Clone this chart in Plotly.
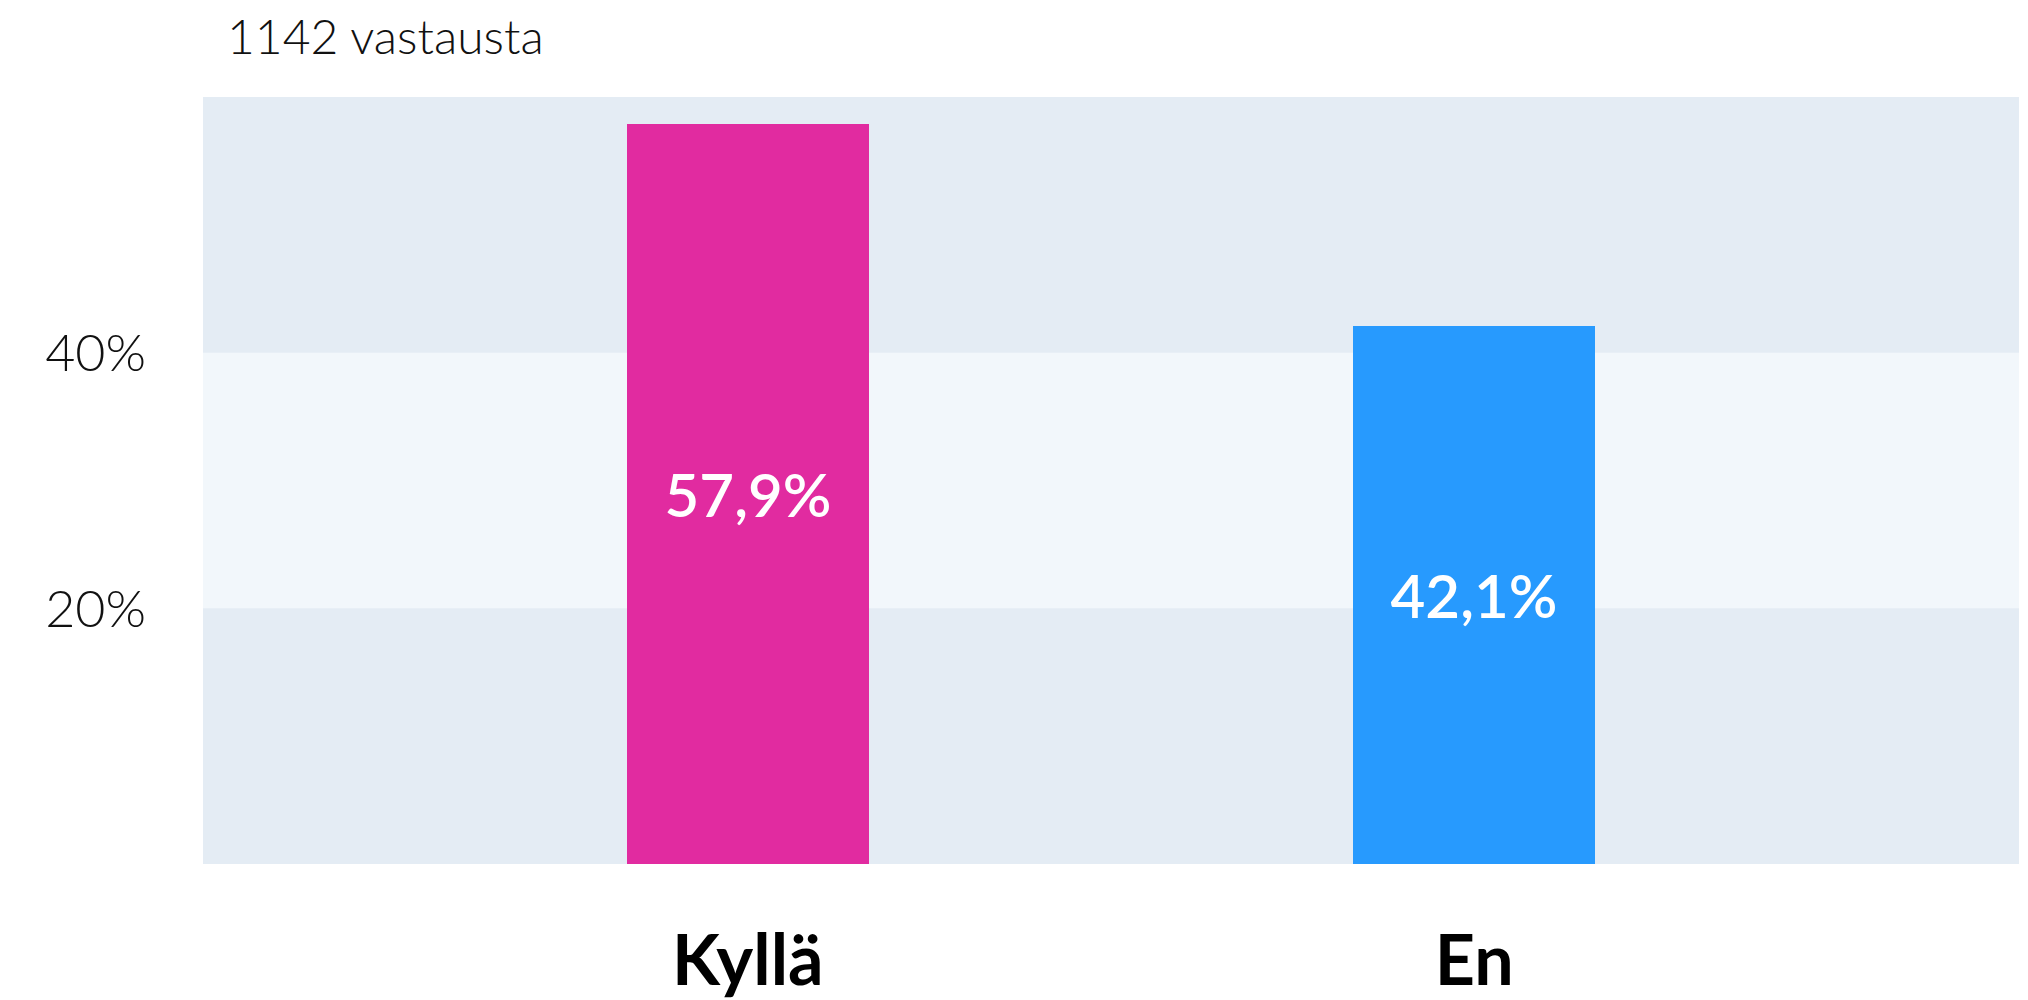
import plotly.graph_objects as go

categories = ["Kyllä", "En"]
values = [57.9, 42.1]
labels = ["57,9%", "42,1%"]
colors = ["#E12BA0", "#279AFE"]
tick_vals = [20, 40]
tick_text = ["20%", "40%"]
title_text = "1142 vastausta"

FONT = "Lato"
W, H = 2020, 992

fig = go.Figure()
fig.add_trace(go.Bar(
    x=[0, 1], y=values, width=0.333,
    marker=dict(color=colors, line=dict(width=0)),
    text=labels, textposition="inside", insidetextanchor="middle",
    textangle=0,
    textfont=dict(family=FONT, size=60, color="white", weight=600),
    hoverinfo="skip",
))

fig.add_shape(type="rect", xref="paper", yref="y", x0=0, x1=1, y0=20, y1=40,
              fillcolor="#F2F7FB", line=dict(width=0), layer="below")

fig.update_layout(
    width=W, height=H,
    margin=dict(l=195, r=9, t=89, b=136, autoexpand=False),
    paper_bgcolor="white", plot_bgcolor="#E4ECF4",
    showlegend=False,
    bargap=0,
    title=dict(text=title_text, x=219/W, xanchor="left", xref="container",
               y=1-29/H, yanchor="middle", yref="container",
               font=dict(family=FONT, size=48, color="#111111", weight=300)),
    xaxis=dict(range=[-0.75, 1.75], tickvals=[0, 1], ticktext=categories,
               showgrid=False, zeroline=False, showline=False, ticks="",
               automargin=False, ticklabelstandoff=50,
               tickfont=dict(family=FONT, size=70, color="#000000", weight=700),
               fixedrange=True),
    yaxis=dict(range=[0, 60], tickvals=tick_vals, ticktext=tick_text,
               showgrid=False, zeroline=False, showline=False, ticks="",
               automargin=False, ticklabelstandoff=56,
               tickfont=dict(family=FONT, size=52, color="#111111", weight=300),
               fixedrange=True),
)

fig.write_html("out.html")
